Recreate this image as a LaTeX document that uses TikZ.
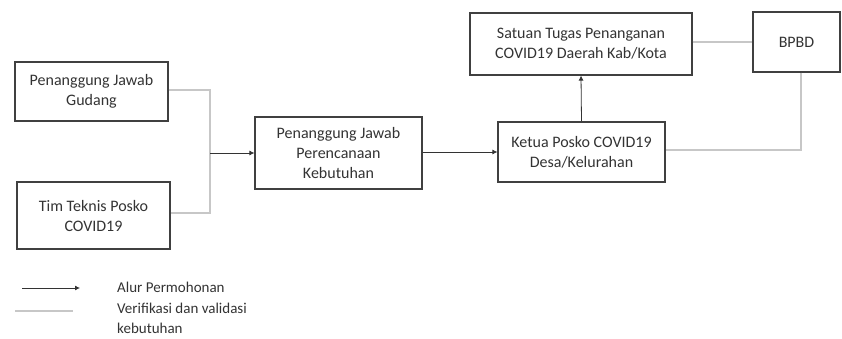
\documentclass[tikz,border=0pt]{standalone}
\usepackage{fontspec}
\setmainfont{Carlito}
\usetikzlibrary{arrows.meta}
\begin{document}
\begin{tikzpicture}[x=1pt,y=-1pt,
  box/.style={draw=black!75,line width=1.1pt,inner sep=0pt,align=center,font=\fontsize{16}{20}\selectfont,text=black!80},
  req/.style={draw=black!80,line width=0.8pt,-{Latex[length=5pt,width=5pt]}},
  verif/.style={draw=black!22,line width=1.6pt},
  lbl/.style={font=\fontsize{15}{20}\selectfont,text=black!80,anchor=west,inner sep=0pt}]
\useasboundingbox (0,0) rectangle (842,339);
\node[box,minimum width=153pt,minimum height=59pt] (gud) at (91.5,91.5) {Penanggung Jawab\\Gudang};
\node[box,minimum width=153pt,minimum height=67pt] (tim) at (93.5,215.5) {Tim Teknis Posko\\COVID19};
\node[box,minimum width=167pt,minimum height=72pt] (per) at (338.5,153) {Penanggung Jawab\\Perencanaan\\Kebutuhan};
\node[box,minimum width=167pt,minimum height=60pt] (ket) at (581.5,152) {Ketua Posko COVID19\\Desa/Kelurahan};
\node[box,minimum width=222pt,minimum height=62pt] (sat) at (581,44) {Satuan Tugas Penanganan\\COVID19 Daerah Kab/Kota};
\node[box,minimum width=87pt,minimum height=60pt] (bpbd) at (796.5,42) {BPBD};
\coordinate (j) at (210,153);
\coordinate (c) at (801,150);
\draw[verif] (gud.east |- 0,90) -| (210,213) -- (tim.east |- 0,213);
\draw[req] (j) -- (per.west |- j);
\draw[req] (per.east |- 0,152) -- (ket.west |- 0,152);
\draw[req] (ket.north) -- (sat.south);
\draw[verif] (sat.east |- bpbd.west) -- (bpbd.west);
\draw[verif] (bpbd.south -| c) -- (c) -- (ket.east |- c);
% legend
\coordinate (l1a) at (22,288);
\coordinate (l1b) at (80,288);
\coordinate (l2a) at (15,311);
\coordinate (l2b) at (73,311);
\draw[req] (l1a) -- (l1b);
\draw[verif] (l2a) -- (l2b);
\node[lbl] (t1) at (117,287) {Alur Permohonan};
\node[lbl] (t2) at (117,308) {Verifikasi dan validasi};
\node[lbl] (t3) at (117,328) {kebutuhan};
\end{tikzpicture}
\end{document}
